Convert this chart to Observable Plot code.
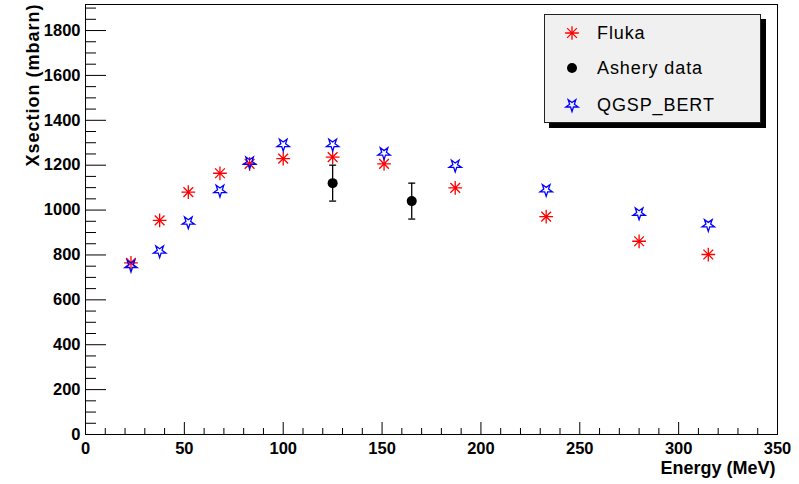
<!DOCTYPE html>
<html><head><meta charset="utf-8">
<script src="https://cdn.jsdelivr.net/npm/d3@7"></script>
<script src="https://cdn.jsdelivr.net/npm/@observablehq/plot@0.6"></script>
<style>
html,body{margin:0;padding:0;background:#fff;}
#wrap{position:relative;width:799px;height:484px;overflow:hidden;}
#legend{position:absolute;left:544px;top:14px;width:215px;height:107px;background:#f0f0f0;border:1px solid #222;box-shadow:5px 5px 0 #000;font-family:"Liberation Sans",Arial,sans-serif;font-size:18px;letter-spacing:0.9px;color:#000;}
.row{position:absolute;left:0;width:215px;height:24px;line-height:24px;}
.row svg{position:absolute;left:19px;top:4px;overflow:visible;}
.row span{position:absolute;left:52px;top:0;white-space:nowrap;}
</style>
</head><body>
<div id="wrap"><div id="legend"></div></div>
<script>
// Model predictions (Energy in MeV, cross-section in mbarn)
const energy   = [23, 37.5, 52, 68, 83, 100, 125, 151, 187, 233, 280, 315];
const fluka    = [765, 954, 1080, 1164, 1206, 1229, 1236, 1206, 1099, 971, 861, 802];
const qgspBert = [753, 817, 946, 1087, 1213, 1292, 1292, 1254, 1199, 1090, 986, 934];
// Ashery data with errors
const asheryEnergy = [125, 165];
const asheryXs     = [1120, 1040];
const asheryErr    = [80, 80];
// Axis ticks
const xTicks = [0, 50, 100, 150, 200, 250, 300, 350];
const yTicks = [0, 200, 400, 600, 800, 1000, 1200, 1400, 1600, 1800];
const xMinor = d3.range(0, 351, 10).filter(v => v % 50 !== 0);
const yMinor = d3.range(0, 1901, 50).filter(v => v % 200 !== 0);
const legendLabels = ["Fluka", "Ashery data", "QGSP_BERT"];
const xTitle = "Energy (MeV)";
const yTitle = "Xsection (mbarn)";

const fl = energy.map((e, i) => ({e, v: fluka[i]}));
const qg = energy.map((e, i) => ({e, v: qgspBert[i]}));
const ash = asheryEnergy.map((e, i) => ({e, v: asheryXs[i], err: asheryErr[i]}));
const caps = ash.flatMap(d => [{e: d.e, v: d.v - d.err}, {e: d.e, v: d.v + d.err}]);

const capSymbol = {draw(ctx, size) { const r = Math.sqrt(size / Math.PI); ctx.moveTo(-r, 0); ctx.lineTo(r, 0); }};

const plot = Plot.plot({
  width: 799, height: 484,
  marginLeft: 85, marginRight: 22, marginTop: 4, marginBottom: 50,
  x: {domain: [0, 350]},
  y: {domain: [0, 1916]},
  style: {fontFamily: "'Liberation Sans', Arial, sans-serif", background: "white", color: "black", overflow: "visible"},
  marks: [
    Plot.axisY(yMinor, {tickSize: -11, tickFormat: () => "", label: null}),
    Plot.axisY(yTicks, {tickSize: -21, tickPadding: 26, tickFormat: d => String(d), fontSize: 16.5, fontWeight: "bold", label: null}),
    Plot.axisX(xMinor, {tickSize: -6, tickFormat: () => "", label: null}),
    Plot.axisX(xTicks, {tickSize: -12, tickPadding: 20, tickFormat: d => String(d), fontSize: 16.5, fontWeight: "bold", label: null}),
    Plot.frame({stroke: "black"}),
    Plot.ruleX(ash, {x: "e", y1: d => d.v - d.err, y2: d => d.v + d.err, stroke: "black", strokeWidth: 1.3}),
    Plot.dot(caps, {x: "e", y: "v", symbol: capSymbol, r: 3.5, stroke: "black", fill: "none", strokeWidth: 1.3}),
    Plot.dot(ash, {x: "e", y: "v", r: 5, fill: "black", symbol: "circle"}),
    Plot.dot(fl, {x: "e", y: "v", symbol: "plus", r: 4.5, stroke: "red", strokeWidth: 1.3}),
    Plot.dot(fl, {x: "e", y: "v", symbol: "times", r: 4.5, stroke: "red", strokeWidth: 1.3}),
    Plot.dot(fl, {x: "e", y: "v", symbol: "circle", r: 1.6, fill: "red"}),
    Plot.dot(qg, {x: "e", y: "v", symbol: "star", r: 3.9, rotate: 180, stroke: "blue", fill: "none", strokeWidth: 1.3}),
    Plot.text([xTitle], {text: d => d, frameAnchor: "bottom-right", textAnchor: "end", lineAnchor: "bottom", dx: -2, dy: 39, fontSize: 18, fontWeight: "bold"}),
    Plot.text([yTitle], {text: d => d, frameAnchor: "top-left", rotate: -90, textAnchor: "end", lineAnchor: "bottom", dx: -47, dy: -1, fontSize: 18, fontWeight: "bold"})
  ]
});
plot.querySelectorAll("text").forEach(t => { if (t.textContent === yTitle) t.style.letterSpacing = "1px"; });
const wrap = document.getElementById("wrap");
wrap.insertBefore(plot, wrap.firstChild);
plot.style.position = "absolute"; plot.style.left = "0"; plot.style.top = "0";

// Legend
const legend = document.getElementById("legend");
const sz = r => Math.PI * r * r;
const markerSvgs = [
  `<path d="${d3.symbol(d3.symbolPlus, sz(4.5))()}" stroke="red" stroke-width="1.3" fill="none"/><path d="${d3.symbol(d3.symbolTimes, sz(4.5))()}" stroke="red" stroke-width="1.3" fill="none"/><circle r="1.6" fill="red"/>`,
  `<circle r="5" fill="black"/>`,
  `<path transform="rotate(180)" d="${d3.symbol(d3.symbolStar, sz(3.9))()}" stroke="blue" stroke-width="1.3" fill="none"/>`
];
const centers = [17.7, 53.3, 90];
legendLabels.forEach((lab, i) => {
  const row = document.createElement("div");
  row.className = "row";
  row.style.top = (centers[i] - 12) + "px";
  row.innerHTML = `<svg width="16" height="16" viewBox="-8 -8 16 16">${markerSvgs[i]}</svg><span>${lab}</span>`;
  legend.appendChild(row);
});
</script>
</body></html>
